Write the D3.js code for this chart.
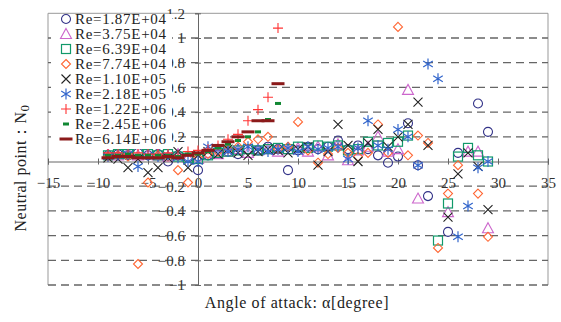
<!DOCTYPE html>
<html>
<head>
<meta charset="utf-8">
<script src="https://cdn.jsdelivr.net/npm/d3@7"></script>
<style>
  body { margin: 0; background: #fff; }
  svg { font-family: 'Liberation Serif', 'Times New Roman', Times, serif; }
</style>
</head>
<body>
<svg id="chart"></svg>
<script>
// Re series, legend order
const seriesNames = ['Re=1.87E+04', 'Re=3.75E+04', 'Re=6.39E+04', 'Re=7.74E+04', 'Re=1.10E+05',
  'Re=2.18E+05', 'Re=1.22E+06', 'Re=2.45E+06', 'Re=6.14E+06'];

const alphaLow = [-9,-8,-7,-6,-5,-4,-3,-2,-1,0,1,2,3,4,5,6,7,8,9,10,11,12,13,14,15,16,17,18,19,20,21,22];
const alphaHigh = [-9,-8,-7,-6,-5,-4,-3,-2,-1,0,1,2,3,4,5,6,7,8];

const re187a = alphaLow.concat([23,25,26,28,29]);
const re187 = [0.05,0.06,0.05,0.07,0.05,0.06,0.0,0.05,0.03,-0.07,0.05,0.07,0.08,0.06,0.1,0.09,0.12,0.1,-0.07,0.09,0.12,0.1,0.12,0.17,0.1,0.13,0.1,0.05,-0.01,0.04,0.31,-0.03,
  -0.28,-0.57,0.07,0.47,0.24];

const re375a = alphaLow.concat([25,27,28,29]);
const re375 = [0.06,0.05,0.07,0.05,0.06,0.05,0.04,0.06,0.03,0.02,0.07,0.06,0.08,0.1,0.07,0.09,0.1,0.08,0.1,0.11,0.08,0.12,0.05,0.14,0.01,0.09,0.12,0.2,0.08,0.1,0.58,-0.3,
  -0.41,0.08,0.08,-0.54];

const re639a = alphaLow.slice(0, 31).concat([24,25,26,27,28,29]);
const re639 = [0.05,0.06,0.06,0.07,0.06,0.05,0.06,0.04,0.03,0.02,0.05,0.07,0.08,0.09,0.1,0.09,0.1,0.11,0.1,0.12,0.11,0.13,0.12,0.13,0.09,0.1,0.16,0.13,0.15,0.16,0.21,
  -0.64,-0.34,0.04,0.11,0.05,0.0];

const re774a = alphaLow.concat([23,24,25,26,28,29]);
const re774 = [0.04,0.05,0.04,-0.83,-0.17,0.05,0.04,-0.07,-0.17,0.03,0.06,0.08,0.1,0.12,0.16,0.18,0.2,0.1,0.12,0.32,0.09,-0.01,0.06,0.11,0.07,0.04,0.07,0.3,0.07,1.09,0.05,0.21,
  0.15,-0.7,-0.26,-0.03,-0.26,-0.61];

const re110a = alphaLow.concat([23,25,26,27,28,29]);
const re110 = [0.03,0.02,-0.05,0.02,-0.09,-0.05,0.03,0.08,-0.05,0.05,0.08,0.06,0.1,0.07,0.05,0.08,0.1,0.09,0.07,0.1,0.12,-0.03,0.08,0.3,0.13,0.0,0.15,0.26,0.12,0.2,0.3,0.48,
  0.13,-0.45,-0.1,0.07,-0.04,-0.39];

const re218a = alphaLow.concat([23,24,26,27,28,29]);
const re218 = [0.04,0.05,0.06,-0.04,0.05,0.04,0.05,0.03,0.0,0.0,0.12,0.1,0.08,0.1,0.12,0.1,0.08,0.1,0.11,0.08,0.12,0.1,0.11,0.12,0.02,0.11,0.33,0.13,0.1,0.26,0.2,-0.03,
  0.79,0.67,-0.61,-0.36,-0.05,0.0];

const re122 = [0.07,0.07,0.06,0.07,0.06,0.06,0.07,0.05,0.08,0.09,0.1,0.13,0.18,0.22,0.33,0.42,0.52,1.08];
const re245 = [0.05,0.05,0.06,0.05,0.05,0.05,0.05,0.04,0.06,0.06,0.08,0.11,0.14,0.17,0.2,0.24,0.34,0.47];
const re614 = [0.03,0.04,0.04,0.03,0.03,0.03,0.04,0.03,0.05,0.07,0.09,0.13,0.16,0.2,0.24,0.33,0.33,0.63];

const xTicks = [-15,-10,-5,0,5,10,15,20,25,30,35];
const yTicks = [1.2,1,0.8,0.6,0.4,0.2,-0.2,-0.4,-0.6,-0.8,-1];

const seriesAlpha = [re187a, re375a, re639a, re774a, re110a, re218a, alphaHigh, alphaHigh, alphaHigh];
const seriesN = [re187, re375, re639, re774, re110, re218, re122, re245, re614];
const colors = ['#333388', '#cc66cc', '#11996a', '#ff6633', '#222222', '#3366cc', '#ff3333', '#118833', '#8b1a1a'];
const shapes = ['circle', 'triangle', 'square', 'diamond', 'cross', 'star', 'plus', 'dashS', 'dashL'];

const W = 561, H = 322;
const svg = d3.select('#chart').attr('width', W).attr('height', H);

const x = d3.scaleLinear().domain([-15, 35]).range([48, 548]);
const y = d3.scaleLinear().domain([-1, 1.2]).range([285, 13.3]);

// frame
svg.append('path')
.attr('d', `M${x(-15)},${y(-1)}V${y(1.2)}H${x(35)}V${y(-1)}`)
.attr('fill', 'none')
.attr('stroke', '#999')
.attr('stroke-width', 1);

// dashed gridlines
svg.selectAll('.grid')
.data(yTicks.filter(d => d !== 1.2))
.enter()
.append('line')
.attr('x1', x(-15))
.attr('x2', x(35))
.attr('y1', d => y(d))
.attr('y2', d => y(d))
.attr('stroke', '#666')
.attr('stroke-width', 1.3)
.attr('stroke-dasharray', '8,5');

// x axis through N=0
const gx = svg.append('g')
.attr('transform', `translate(0, ${y(0)})`)
.call(d3.axisBottom(x).tickValues(xTicks).tickSize(3).tickFormat(d3.format('d')));
gx.attr('font-family', null);
gx.select('.domain').attr('stroke', '#666');
gx.selectAll('.tick line').attr('y1', -3).attr('stroke', '#666');
gx.selectAll('.tick text')
.attr('y', 16)
.attr('fill', '#333')
.style('font-size', '15px');

// y axis through alpha=0
const gy = svg.append('g')
.attr('transform', `translate(${x(0)}, 0)`)
.call(d3.axisLeft(y).tickValues(yTicks).tickSize(3).tickPadding(10).tickFormat(d => d3.format('')(+d.toFixed(1))));
gy.attr('font-family', null);
gy.select('.domain').attr('stroke', '#666');
gy.selectAll('.tick line').attr('x1', 3).attr('stroke', '#666');
gy.selectAll('.tick text')
.attr('fill', '#333')
.style('font-size', '15px');

function drawMarker(g, shape, color) {
  if (shape === 'circle') {
    g.append('circle').attr('r', 4.5).attr('fill', 'none').attr('stroke', color).attr('stroke-width', 1.1);
  } else if (shape === 'triangle') {
    g.append('path').attr('d', 'M0,-5.5L5.5,4.5L-5.5,4.5Z').attr('fill', 'none').attr('stroke', color).attr('stroke-width', 1.1);
  } else if (shape === 'square') {
    g.append('rect').attr('x', -4.5).attr('y', -4.5).attr('width', 9).attr('height', 9)
    .attr('fill', 'none').attr('stroke', color).attr('stroke-width', 1.2);
  } else if (shape === 'diamond') {
    g.append('path').attr('d', 'M0,-4.5L4.5,0L0,4.5L-4.5,0Z').attr('fill', 'none').attr('stroke', color).attr('stroke-width', 1.1);
  } else if (shape === 'cross') {
    g.append('path').attr('d', 'M-4.5,-4.5L4.5,4.5M-4.5,4.5L4.5,-4.5').attr('stroke', color).attr('stroke-width', 1.1);
  } else if (shape === 'star') {
    g.append('path').attr('d', 'M0,-5.5V5.5M-4.8,-3L4.8,3M-4.8,3L4.8,-3').attr('stroke', color).attr('stroke-width', 1.2);
  } else if (shape === 'plus') {
    g.append('path').attr('d', 'M-5,0H5M0,-5V5').attr('stroke', color).attr('stroke-width', 1.1);
  } else if (shape === 'dashS') {
    g.append('rect').attr('x', -3).attr('y', -1.5).attr('width', 6).attr('height', 3).attr('fill', color);
  } else if (shape === 'dashL') {
    g.append('rect').attr('x', -6.5).attr('y', -1.5).attr('width', 13).attr('height', 3).attr('fill', color);
  }
}

seriesNames.forEach((name, i) => {
  const pts = seriesAlpha[i].map((a, j) => ({a: a, n: seriesN[i][j]}));
  const grp = svg.append('g');
  pts.forEach(p => {
    const m = grp.append('g').attr('transform', `translate(${x(p.a)}, ${y(p.n)})`);
    drawMarker(m, shapes[i], colors[i]);
  });
});

// legend box covers left part of the plot
const legend = svg.append('g');
legend.append('rect')
.attr('x', 51)
.attr('y', 14)
.attr('width', 121)
.attr('height', 135)
.attr('fill', '#fff');

seriesNames.forEach((name, i) => {
  const ly = 19 + i * 15;
  const m = legend.append('g').attr('transform', `translate(66, ${ly})`);
  drawMarker(m, shapes[i], colors[i]);
  legend.append('text')
  .attr('x', 75)
  .attr('y', ly)
  .attr('dy', '0.35em')
  .attr('fill', '#222')
  .style('font-size', '15px')
  .style('letter-spacing', '0.7px')
  .text(name);
});

svg.append('text')
.attr('x', 297)
.attr('y', 308)
.attr('text-anchor', 'middle')
.attr('fill', '#222')
.style('font-size', '16px')
.style('letter-spacing', '0.6px')
.text('Angle of attack: α[degree]');

const yt = svg.append('text')
.attr('transform', 'translate(26, 168) rotate(-90)')
.attr('text-anchor', 'middle')
.attr('fill', '#222')
.style('font-size', '16px')
.style('letter-spacing', '0.5px')
.text('Neutral point：N');
yt.append('tspan').attr('dy', 3).style('font-size', '13px').text('0');
</script>
</body>
</html>
